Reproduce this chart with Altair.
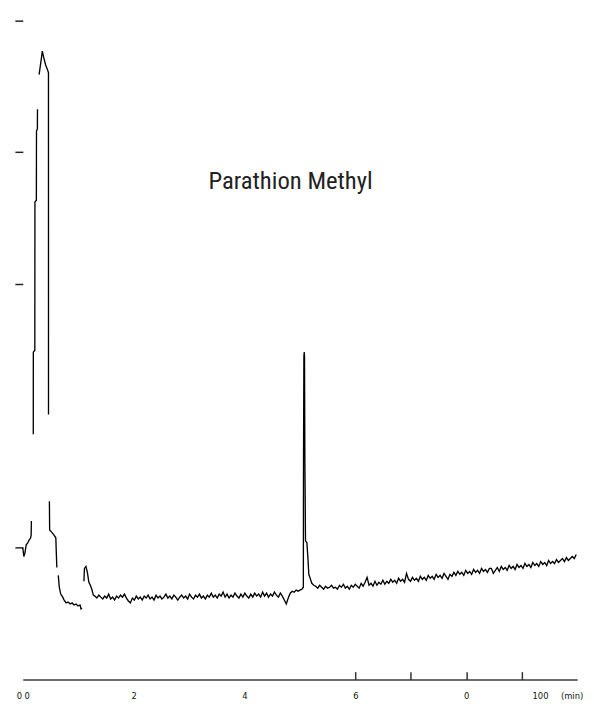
import altair as alt
import pandas as pd

# ---------------- data (time in min, detector response in arbitrary units) ----
SEG_A_T = [0.000, 0.018, 0.036, 0.062, 0.089, 0.116, 0.142, 0.151, 0.155]
SEG_A_R = [0.0, -6.7, -4.5, 2.2, 3.7, 6.0, 7.5, 9.7, 20.2]

SEG_B_T = [0.189, 0.190, 0.217, 0.219, 0.245, 0.247, 0.263, 0.265]
SEG_B_R = [86.1, 148.3, 149.8, 262.2, 263.6, 316.1, 317.6, 332.6]

SEG_C_T = [0.294, 0.334, 0.352, 0.375, 0.411, 0.452, 0.463, 0.464]
SEG_C_R = [358.8, 370.8, 376.7, 372.3, 366.3, 361.8, 360.3, 101.1]

SEG_D_T = [0.480, 0.484, 0.516, 0.560, 0.596, 0.605, 0.614]
SEG_D_R = [35.2, 13.5, 12.0, 9.7, 7.5, -4.5, -15.0]

SEG_E_T = [0.640, 0.658, 0.684, 0.720, 0.746, 0.783, 0.818, 0.854, 0.890,
           0.925, 0.961, 0.996, 1.032, 1.050, 1.067]
SEG_E_R = [-21.0, -30.0, -35.2, -37.5, -39.7, -41.9, -41.2, -42.7, -41.9,
           -43.4, -42.7, -44.2, -43.4, -46.4, -45.7]

SMALL_PEAK_T = [1.103, 1.112, 1.139, 1.165, 1.192, 1.219, 1.245, 1.272]
SMALL_PEAK_R = [-25.5, -15.7, -14.2, -18.7, -26.2, -28.5, -31.5, -36.0]

# baseline sampled every 0.0356 min
BASE1_T0 = 1.300
BASE2_T0 = 5.285
SAMPLE_DT = 0.0356
BASE1_R = [
    -36.7, -38.2, -36.0, -37.5, -38.9, -36.7, -38.2, -35.2, -38.9, -37.5,
    -39.7, -36.7, -38.2, -36.0, -37.5, -35.2, -38.2, -40.4, -41.9, -38.2,
    -39.7, -36.7, -38.9, -37.5, -39.7, -36.7, -38.2, -36.0, -38.9, -37.5,
    -39.7, -36.0, -38.2, -36.7, -38.9, -37.5, -35.2, -38.2, -36.7, -38.9,
    -36.0, -37.5, -39.7, -37.5, -36.0, -38.2, -36.7, -38.9, -35.2, -37.5,
    -38.9, -36.0, -37.5, -35.2, -38.2, -36.7, -38.9, -36.0, -37.5, -34.5,
    -37.5, -36.0, -38.2, -35.2, -36.7, -33.7, -37.5, -35.2, -38.2, -36.0,
    -37.5, -34.5, -36.7, -38.2, -35.2, -37.5, -34.5, -36.7, -38.2, -35.2,
    -37.5, -34.5, -36.7, -35.2, -37.5, -33.7, -36.7, -34.5, -37.5, -35.2,
    -36.7, -33.7, -36.0, -37.5, -34.5, -36.7, -39.7, -42.7, -38.2, -34.5,
    -33.0, -33.7, -32.2, -33.0,
]

MAIN_PEAK_T = [5.000, 5.036, 5.061, 5.064, 5.071, 5.077, 5.082, 5.089,
               5.100, 5.125, 5.143, 5.160, 5.196, 5.214, 5.249]
MAIN_PEAK_R = [-32.2, -31.5, -30.0, 65.2, 145.0, 148.4, 145.0, 65.2,
               5.2, 3.7, -7.5, -20.2, -24.7, -27.0, -28.5]

BASE2_R = [
    -29.2, -30.7, -28.5, -30.0, -31.5, -29.2, -30.7, -30.0, -28.5, -30.7,
    -30.0, -31.5, -28.5, -30.0, -27.7, -30.7, -29.2, -31.5, -28.5, -30.0,
    -27.7, -29.2, -30.7, -27.0, -29.2, -26.2, -22.5, -28.5, -27.0, -29.2,
    -25.5, -28.5, -26.2, -27.7, -24.7, -27.7, -25.5, -27.0, -24.0, -26.2,
    -24.7, -27.0, -23.2, -25.5, -24.0, -26.2, -19.5, -24.0, -25.5, -22.5,
    -24.7, -23.2, -25.5, -21.7, -24.0, -22.5, -24.7, -21.0, -23.2, -21.7,
    -24.0, -20.2, -22.5, -21.0, -23.2, -19.5, -21.7, -24.0, -20.2, -21.7,
    -18.7, -21.0, -18.0, -20.2, -18.7, -21.0, -17.2, -19.5, -18.0, -20.2,
    -16.5, -18.7, -17.2, -19.5, -15.7, -18.0, -16.5, -18.7, -15.7, -15.7,
    -19.5, -17.2, -15.0, -18.0, -14.2, -16.5, -15.0, -17.2, -13.5, -15.7,
    -14.2, -16.5, -12.7, -15.0, -13.5, -15.7, -12.0, -14.2, -12.7, -15.0,
    -11.2, -13.5, -12.0, -14.2, -10.5, -12.7, -11.2, -13.5, -9.7, -12.0,
    -10.5, -12.0, -9.0, -11.2, -9.7, -8.2, -10.5, -7.5, -9.7, -8.2,
    -6.7, -8.2, -5.2,
]

Y_TICKS = [0, 200, 300, 400]
X_MINOR_TICKS = [6, 7, 8, 9]
X_LABEL_T = [0, 2, 4, 6, 8, 9.33, 9.9]
X_LABEL_TEXT = ["0 0", "2", "4", "6", "0", "100", "(min)"]

ANNOT_T = [4.83]
ANNOT_R = [272]
ANNOT_TEXT = ["Parathion Methyl"]

# ---------------- build table ----------------
rows = []


def add(seg, ts, rs):
    for t, r in zip(ts, rs):
        rows.append({"t": t, "r": r, "seg": seg, "idx": len(rows)})


add("a", SEG_A_T, SEG_A_R)
add("b", SEG_B_T, SEG_B_R)
add("c", SEG_C_T, SEG_C_R)
add("d", SEG_D_T, SEG_D_R)
add("e", SEG_E_T, SEG_E_R)
add("f", SMALL_PEAK_T, SMALL_PEAK_R)
add("f", [round(BASE1_T0 + SAMPLE_DT * i, 4) for i in range(len(BASE1_R))], BASE1_R)
add("f", MAIN_PEAK_T, MAIN_PEAK_R)
add("f", [round(BASE2_T0 + SAMPLE_DT * i, 4) for i in range(len(BASE2_R))], BASE2_R)
df = pd.DataFrame(rows)

annot = pd.DataFrame({"t": ANNOT_T, "r": ANNOT_R, "label": ANNOT_TEXT})

expr = "''"
for v, s in reversed(list(zip(X_LABEL_T, X_LABEL_TEXT))):
    expr = f"datum.value == {v} ? '{s}' : {expr}"

xscale = alt.Scale(domain=[0, 10], nice=False, zero=False)
yscale = alt.Scale(domain=[-100, 405], nice=False, zero=False)

line = alt.Chart(df).mark_line(color="#000000", strokeWidth=1.35).encode(
    x=alt.X("t:Q", scale=xscale, axis=alt.Axis(
        values=X_LABEL_T, labelExpr=expr, ticks=False, domain=True,
        domainColor="#3a3a3a", domainWidth=1.5, grid=False, title=None,
        labelFont="DejaVu Sans", labelFontSize=8.5, labelColor="#111111",
        labelPadding=12, labelFlush=False, labelOverlap=False)),
    y=alt.Y("r:Q", scale=yscale, axis=alt.Axis(
        values=Y_TICKS, labels=False, domain=False, ticks=True, tickSize=8,
        tickColor="#222222", tickWidth=1.5, grid=False, title=None)),
    detail="seg:N",
    order="idx:Q",
)

text = alt.Chart(annot).mark_text(
    font='"Liberation Sans Narrow", "Roboto Condensed", "DejaVu Sans Condensed", sans-serif',
    fontSize=25, color="#222222", align="center", baseline="alphabetic",
).encode(
    x=alt.X("t:Q", scale=xscale, axis=alt.Axis(
        values=X_MINOR_TICKS, orient="bottom", offset=-8, labels=False,
        domain=False, ticks=True, tickSize=8, tickColor="#333333",
        tickWidth=1.5, grid=False, title=None)),
    y=alt.Y("r:Q", scale=yscale, axis=None),
    text="label:N",
)

chart = alt.layer(line, text).resolve_axis(x="independent", y="independent").properties(
    width=562, height=675,
    padding={"left": 15, "top": 1, "right": 9, "bottom": 22},
    autosize=alt.AutoSizeParams(type="none"),
    background="white",
).configure_view(stroke=None)

chart.save("out.html", embed_options={"renderer": "svg", "actions": False})
